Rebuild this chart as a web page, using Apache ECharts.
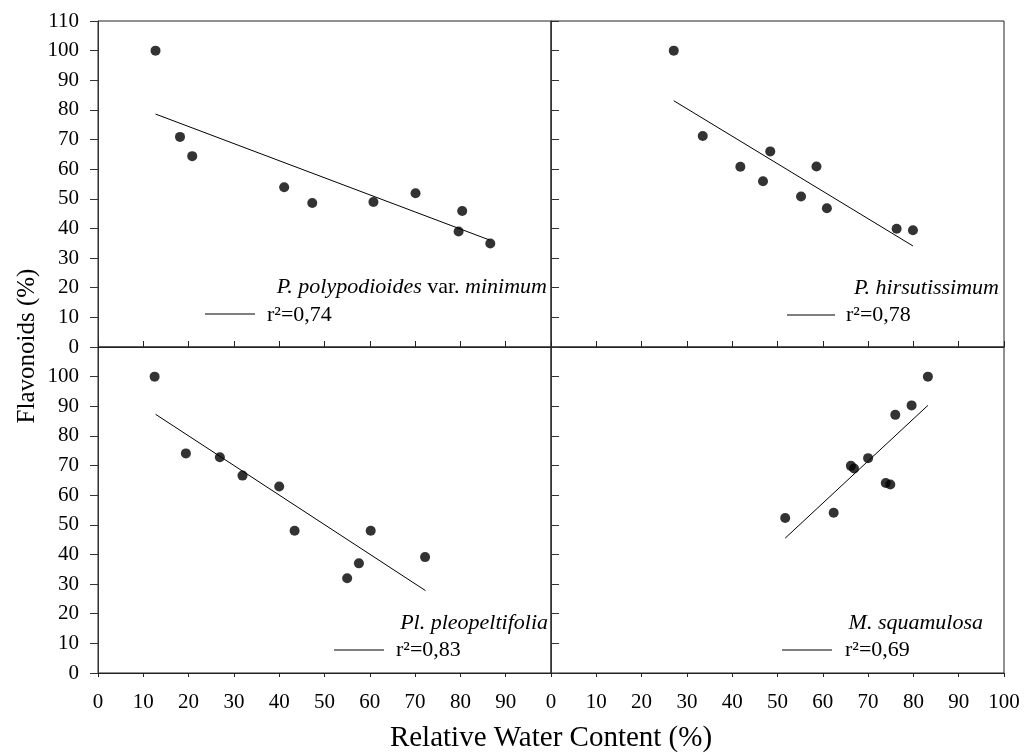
<!DOCTYPE html>
<html lang="en">

<head>
    <meta charset="UTF-8">
    <title>Flavonoids vs RWC</title>
    <script src="https://cdn.jsdelivr.net/npm/echarts@6/dist/echarts.min.js"></script>
    <style>
        body { margin: 0; background: #fff; }
    </style>
</head>

<body>
    <div id="main" style="width: 1024px;height: 755px;"></div>
    <script type="text/javascript">
        // relative water content (%) and flavonoids (%) per species
        var polyRWC = [12.7, 18.1, 20.8, 41.1, 47.3, 60.8, 70.1, 80.4, 79.6, 86.6];
        var polyFlav = [100, 70.9, 64.4, 53.9, 48.6, 48.9, 51.9, 45.9, 39.0, 34.9];
        var polyFit = [[12.7, 78.6], [86.6, 36.0]];

        var hirsRWC = [27.1, 33.5, 41.8, 46.8, 48.4, 55.2, 58.6, 60.9, 76.3, 79.9];
        var hirsFlav = [100, 71.2, 60.8, 55.9, 66.0, 50.8, 60.9, 46.8, 39.9, 39.4];
        var hirsFit = [[27.1, 83.1], [79.9, 34.1]];

        var pleoRWC = [12.5, 19.4, 26.9, 31.9, 40.0, 43.4, 55.0, 57.6, 60.2, 72.2];
        var pleoFlav = [100, 74.1, 72.8, 66.6, 62.9, 48.0, 32.0, 37.0, 48.0, 39.1];
        var pleoFit = [[12.7, 87.3], [72.3, 27.8]];

        var squaRWC = [51.7, 62.4, 66.2, 66.9, 70.0, 73.9, 74.9, 76.0, 79.6, 83.2];
        var squaFlav = [52.3, 54.1, 69.9, 69.0, 72.5, 64.1, 63.6, 87.1, 90.3, 100];
        var squaFit = [[51.7, 45.5], [83.2, 90.3]];

        var FONT = '"Liberation Serif", "Times New Roman", serif';

        function pairs(xs, ys) {
            var out = [];
            for (var i = 0; i < xs.length; i++) out.push([xs[i], ys[i]]);
            return out;
        }

        function xAxis(idx, showLabels, hide100, inside) {
            return {
                type: 'value', gridIndex: idx, min: 0, max: 100, interval: 10,
                axisLine: { show: true, lineStyle: { color: '#222', width: 1 } },
                axisTick: { show: true, inside: inside, length: inside ? 6 : 4, lineStyle: { color: '#222' } },
                splitLine: { show: false },
                axisLabel: {
                    show: showLabels, margin: 19, color: '#000', fontFamily: FONT, fontSize: 21,
                    formatter: function (v) { return (hide100 && v === 100) ? '' : v; }
                }
            };
        }

        function yAxis(idx, showLabels, hide110, inside) {
            return {
                type: 'value', gridIndex: idx, min: 0, max: 110, interval: 10,
                axisLine: { show: true, lineStyle: { color: '#333', width: 1 } },
                axisTick: { show: true, inside: inside, length: 8, lineStyle: { color: '#333' } },
                splitLine: { show: false },
                axisLabel: {
                    show: showLabels, margin: 19, color: '#000', fontFamily: FONT, fontSize: 21,
                    formatter: function (v) { return (hide110 && v === 110) ? '' : v; }
                }
            };
        }

        function scatter(idx, data) {
            return {
                type: 'scatter', xAxisIndex: idx, yAxisIndex: idx, data: data,
                symbolSize: 10, itemStyle: { color: '#000' }, silent: true
            };
        }

        function fit(idx, data) {
            return {
                type: 'line', xAxisIndex: idx, yAxisIndex: idx, data: data,
                showSymbol: false, lineStyle: { color: '#000', width: 1 }, silent: true
            };
        }

        function label(x, y, text, align) {
            return {
                type: 'text', x: x, y: y, silent: true,
                style: {
                    text: text, fill: '#000', font: '22px ' + FONT, align: align, verticalAlign: 'middle',
                    rich: { i: { fontStyle: 'italic', fontSize: 22, fontFamily: FONT }, n: { fontSize: 22, fontFamily: FONT } }
                }
            };
        }

        function key(x1, x2, y) {
            return { type: 'line', silent: true, shape: { x1: x1, y1: y, x2: x2, y2: y }, style: { stroke: '#000', lineWidth: 1 } };
        }

        var myChart = echarts.init(document.getElementById('main'));
        var gridStyle = { show: true, borderColor: '#222', borderWidth: 1, containLabel: false };

        myChart.setOption({
            animation: false,
            grid: [
                Object.assign({ left: 98, top: 21, width: 453, height: 326 }, gridStyle),
                Object.assign({ left: 551, top: 21, width: 453, height: 326 }, gridStyle),
                Object.assign({ left: 98, top: 347, width: 453, height: 326 }, gridStyle),
                Object.assign({ left: 551, top: 347, width: 453, height: 326 }, gridStyle)
            ],
            xAxis: [
                xAxis(0, false, false, true),
                xAxis(1, false, false, true),
                xAxis(2, true, true, false),
                xAxis(3, true, false, false)
            ],
            yAxis: [
                yAxis(0, true, false, false),
                yAxis(1, false, false, true),
                yAxis(2, true, true, false),
                yAxis(3, false, false, true)
            ],
            series: [
                scatter(0, pairs(polyRWC, polyFlav)), fit(0, polyFit),
                scatter(1, pairs(hirsRWC, hirsFlav)), fit(1, hirsFit),
                scatter(2, pairs(pleoRWC, pleoFlav)), fit(2, pleoFit),
                scatter(3, pairs(squaRWC, squaFlav)), fit(3, squaFit)
            ],
            graphic: [
                label(547, 287, '{i|P. polypodioides}{n| var. }{i|minimum}', 'right'),
                key(205, 255, 314), label(267, 315, 'r²=0,74', 'left'),
                label(999, 288, '{i|P. hirsutissimum}', 'right'),
                key(787, 835, 315), label(846, 315, 'r²=0,78', 'left'),
                label(548, 623, '{i|Pl. pleopeltifolia}', 'right'),
                key(334, 384, 650), label(396, 650, 'r²=0,83', 'left'),
                label(983, 623, '{i|M. squamulosa}', 'right'),
                key(782, 832, 650), label(845, 650, 'r²=0,69', 'left'),
                {
                    type: 'text', x: 27, y: 346, rotation: Math.PI / 2, silent: true,
                    style: { text: 'Flavonoids (%)', fill: '#000', font: '25px ' + FONT, align: 'center', verticalAlign: 'middle' }
                },
                {
                    type: 'text', x: 551, y: 738, silent: true,
                    style: { text: 'Relative Water Content (%)', fill: '#000', font: '29px ' + FONT, align: 'center', verticalAlign: 'middle' }
                }
            ]
        });
    </script>
</body>

</html>
